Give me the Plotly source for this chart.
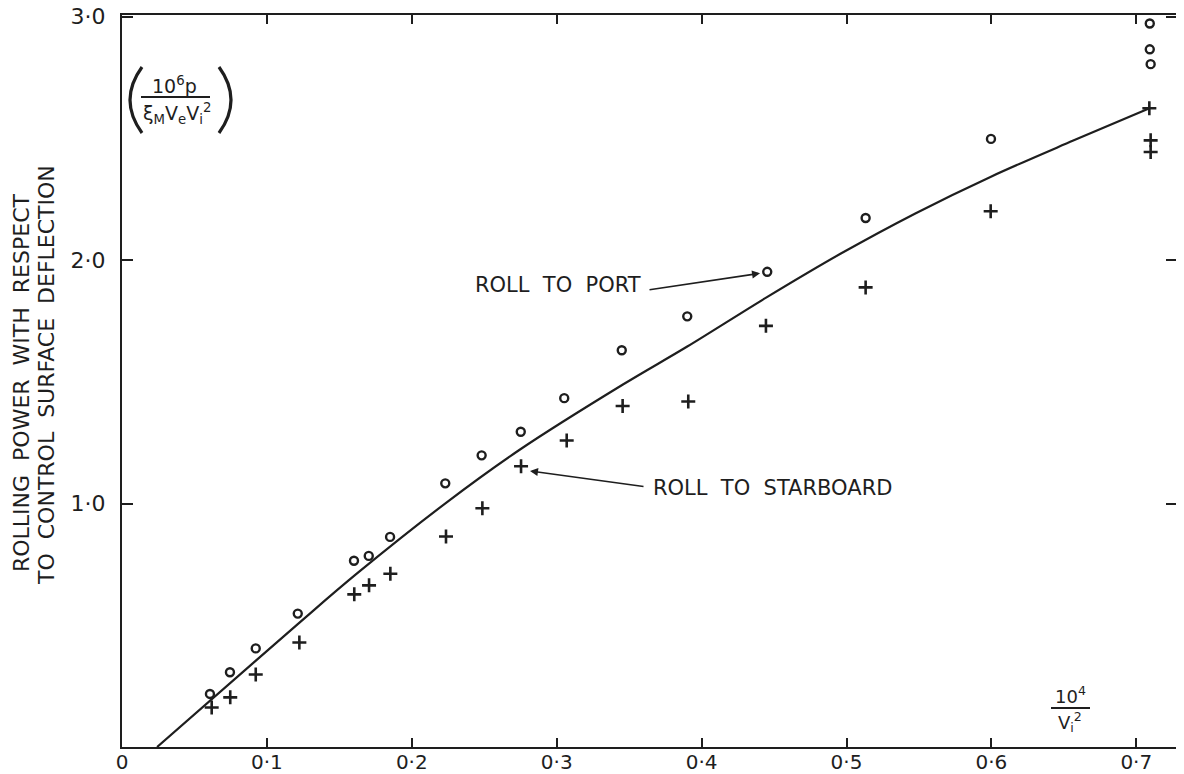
import plotly.graph_objects as go

# ---- data ----
port_x = [0.0607, 0.0745, 0.0923, 0.1213, 0.1601, 0.1703, 0.1850, 0.2231, 0.2482, 0.2752,
          0.3052, 0.3449, 0.3901, 0.4453, 0.5132, 0.5997, 0.7093, 0.7093, 0.7099]
port_y = [0.218, 0.307, 0.405, 0.548, 0.765, 0.785, 0.863, 1.083, 1.198, 1.295,
          1.433, 1.630, 1.769, 1.952, 2.173, 2.498, 2.972, 2.866, 2.805]

star_x = [0.0619, 0.0747, 0.0923, 0.1224, 0.1603, 0.1705, 0.1852, 0.2236, 0.2487, 0.2754,
          0.3069, 0.3455, 0.3908, 0.4444, 0.5132, 0.5995, 0.7099, 0.7099, 0.7090]
star_y = [0.162, 0.204, 0.298, 0.429, 0.627, 0.664, 0.712, 0.865, 0.981, 1.153,
          1.259, 1.401, 1.419, 1.730, 1.888, 2.201, 2.492, 2.444, 2.624]

curve_x = [0.0242, 0.1213, 0.1620, 0.2241, 0.2747, 0.3460, 0.3901, 0.4451, 0.4955, 0.5475,
           0.5997, 0.6565, 0.7091]
curve_y = [0.000, 0.505, 0.712, 1.005, 1.222, 1.490, 1.645, 1.848, 2.025, 2.192,
           2.343, 2.491, 2.624]

x_ticks = [0, 0.1, 0.2, 0.3, 0.4, 0.5, 0.6, 0.7]
x_tick_labels = ["0", "0·1", "0·2", "0·3", "0·4", "0·5", "0·6", "0·7"]
y_ticks = [1, 2, 3]
y_tick_labels = ["1·0", "2·0", "3·0"]

# ---- layout geometry (page body has an 8px margin) ----
OFF = 8
W, H = 1176, 766
L, R, T, B = 114, 7, 7, 27
INK = "#1e1e1e"
FONT = "DejaVu Sans"


def pxp(x):  # screen pixel -> paper x (decorations only)
    return (x - OFF - L) / (W - L - R)


def pyp(y):  # screen pixel -> paper y
    return (H - B - (y - OFF)) / (H - T - B)


fig = go.Figure()

fig.add_trace(go.Scatter(
    x=curve_x, y=curve_y, mode="lines",
    line=dict(color=INK, width=2.2, shape="spline", smoothing=1.0),
    hoverinfo="skip", showlegend=False))

fig.add_trace(go.Scatter(
    x=port_x, y=port_y, mode="markers", name="Roll to port",
    marker=dict(symbol="circle-open", size=8, color=INK, line=dict(width=2.4, color=INK)),
    showlegend=False))

fig.add_trace(go.Scatter(
    x=star_x, y=star_y, mode="markers", name="Roll to starboard",
    marker=dict(symbol="cross-thin-open", size=10, color=INK, line=dict(width=2.6, color=INK)),
    showlegend=False))

annotations = []

# y-axis title (two lines)
annotations.append(dict(xref="paper", yref="paper", x=pxp(21), y=pyp(383),
                        text="ROLLING  POWER  WITH  RESPECT", textangle=-90,
                        showarrow=False, xanchor="center", yanchor="middle",
                        font=dict(family=FONT, size=22, color=INK)))
annotations.append(dict(xref="paper", yref="paper", x=pxp(46), y=pyp(375),
                        text="TO  CONTROL  SURFACE  DEFLECTION", textangle=-90,
                        showarrow=False, xanchor="center", yanchor="middle",
                        font=dict(family=FONT, size=22, color=INK)))

# formula in the top-left corner
annotations.append(dict(xref="paper", yref="paper", x=pxp(174), y=pyp(85),
                        text="10<sup>6</sup>p", showarrow=False, xanchor="center", yanchor="middle",
                        font=dict(family=FONT, size=19, color=INK)))
annotations.append(dict(xref="paper", yref="paper", x=pxp(177), y=pyp(113),
                        text="ξ<sub>M</sub>V<sub>e</sub>V<sub>i</sub><sup>2</sup>", showarrow=False,
                        xanchor="center", yanchor="middle",
                        font=dict(family=FONT, size=19, color=INK)))

# x-axis unit label
annotations.append(dict(xref="paper", yref="paper", x=pxp(1070), y=pyp(695),
                        text="10<sup>4</sup>", showarrow=False, xanchor="center", yanchor="middle",
                        font=dict(family=FONT, size=18, color=INK)))
annotations.append(dict(xref="paper", yref="paper", x=pxp(1070), y=pyp(722),
                        text="V<sub>i</sub><sup>2</sup>", showarrow=False, xanchor="center", yanchor="middle",
                        font=dict(family=FONT, size=18, color=INK)))

# callouts
annotations.append(dict(x=0.3596, y=1.896, text="ROLL  TO  PORT", showarrow=False,
                        xanchor="right", yanchor="middle",
                        font=dict(family=FONT, size=21, color=INK)))
annotations.append(dict(x=0.4417, y=1.947, ax=-114, ay=17, text="", showarrow=True,
                        arrowhead=2, arrowsize=1, arrowwidth=1.6, arrowcolor=INK, standoff=2))
annotations.append(dict(x=0.3651, y=1.066, text="ROLL  TO  STARBOARD", showarrow=False,
                        xanchor="left", yanchor="middle",
                        font=dict(family=FONT, size=21, color=INK)))
annotations.append(dict(x=0.2802, y=1.135, ax=117, ay=16, text="", showarrow=True,
                        arrowhead=2, arrowsize=1, arrowwidth=1.6, arrowcolor=INK, standoff=2))


def paren(x_end, x_ctrl, y_top, y_bot):
    ym = (y_top + y_bot) / 2
    return (f"M {pxp(x_end)},{pyp(y_top)} "
            f"Q {pxp(x_ctrl)},{pyp(ym)} {pxp(x_end)},{pyp(y_bot)}")


shapes = [
    dict(type="line", xref="paper", yref="paper", x0=pxp(141), x1=pxp(210),
         y0=pyp(97), y1=pyp(97), line=dict(color=INK, width=2)),
    dict(type="line", xref="paper", yref="paper", x0=pxp(1051), x1=pxp(1090),
         y0=pyp(708), y1=pyp(708), line=dict(color=INK, width=2)),
    dict(type="path", xref="paper", yref="paper", path=paren(142, 118, 67, 133),
         line=dict(color=INK, width=3.2)),
    dict(type="path", xref="paper", yref="paper", path=paren(219, 243, 67, 133),
         line=dict(color=INK, width=3.2)),
]

x_max = (W - R - L) / 1449.0
y_max = 3.007

fig.update_layout(
    width=W, height=H,
    margin=dict(l=L, r=R, t=T, b=B, pad=0),
    paper_bgcolor="white", plot_bgcolor="white",
    showlegend=False,
    annotations=annotations,
    shapes=shapes,
    font=dict(family=FONT, color=INK),
    xaxis=dict(range=[0, x_max], tickvals=x_ticks, ticktext=x_tick_labels,
               showgrid=False, zeroline=False, showline=True, linecolor=INK, linewidth=2,
               mirror="ticks", ticks="inside", ticklen=9, tickwidth=2, tickcolor=INK,
               tickfont=dict(family=FONT, size=20, color=INK),
               ticklabelstandoff=-4, ticklabeloverflow="allow", automargin=False),
    yaxis=dict(range=[0, y_max], tickvals=y_ticks, ticktext=y_tick_labels,
               showgrid=False, zeroline=False, showline=True, linecolor=INK, linewidth=2,
               mirror="ticks", ticks="inside", ticklen=11, tickwidth=2, tickcolor=INK,
               tickfont=dict(family=FONT, size=22, color=INK),
               ticklabelstandoff=10, ticklabeloverflow="allow", automargin=False),
)

fig.write_html("out.html")
